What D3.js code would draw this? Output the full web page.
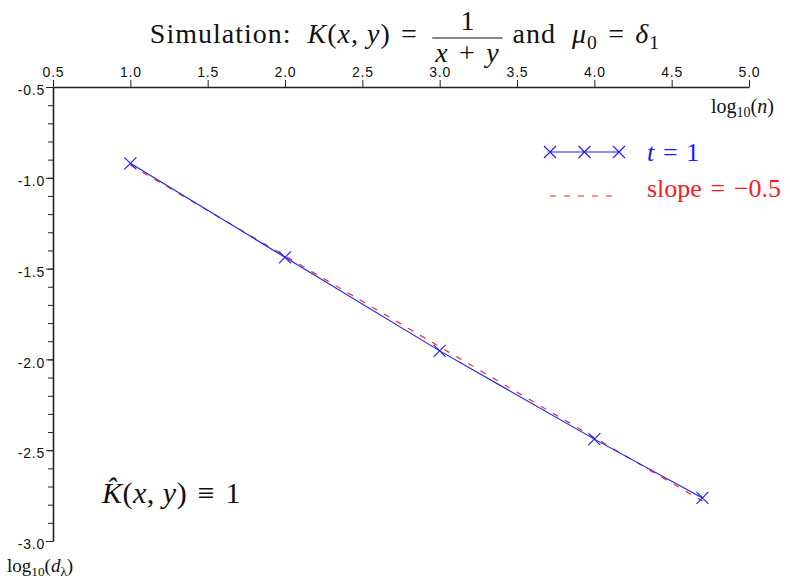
<!DOCTYPE html>
<html>
<head>
<meta charset="utf-8">
<script src="https://cdn.jsdelivr.net/npm/d3@7"></script>
<style>
  body { margin: 0; background: #fff; }
  .axis path, .axis line { stroke: #222; }
  .axis text { font-family: "Liberation Sans", Arial, sans-serif; font-size: 14px; fill: #111; letter-spacing: 0.8px; }
</style>
</head>
<body>
<div id="chart"></div>
<script>
var svgWidth = 790;
var svgHeight = 582;

var margin = { top: 87, right: 41, bottom: 41, left: 53 };
var width = svgWidth - margin.left - margin.right;
var height = svgHeight - margin.top - margin.bottom;

var serif = "'Liberation Serif', 'Times New Roman', serif";
var sp = "\u2004"; // slightly wider math space

// data
var logN = [1, 2, 3, 4, 4.699];
var logD = [-0.920, -1.438, -1.953, -2.439, -2.763];
// slope -0.5 reference line (end points)
var refX = [1, 4.699];
var refY = [-0.93, -2.78];

var xTicks = [0.5, 1.0, 1.5, 2.0, 2.5, 3.0, 3.5, 4.0, 4.5, 5.0];
var yTicks = [-0.5, -1.0, -1.5, -2.0, -2.5, -3.0];
var yMinorTicks = d3.range(-5, -31, -1).map(d => d / 10);

var svg = d3.select("#chart")
  .append("svg")
  .attr("width", svgWidth)
  .attr("height", svgHeight);

var chartGroup = svg.append("g")
  .attr("transform", `translate(${margin.left}, ${margin.top})`);

var xScale = d3.scaleLinear().domain([0.5, 5.0]).range([0, width]);
var yScale = d3.scaleLinear().domain([-0.5, -3.0]).range([0, height]);

// x axis sits on top
var topAxis = d3.axisTop(xScale)
  .tickValues(xTicks)
  .tickSize(7)
  .tickPadding(3)
  .tickSizeOuter(0)
  .tickFormat(d3.format(".1f"));

var xAxis = chartGroup.append("g")
  .classed("axis", true)
  .call(topAxis);
xAxis.select(".domain").attr("stroke-width", 1.6);

// minor y ticks first, then the labelled ones
chartGroup.append("g")
  .classed("axis", true)
  .call(d3.axisLeft(yScale).tickValues(yMinorTicks).tickSize(5).tickSizeOuter(0).tickFormat(""));

var yAxis = chartGroup.append("g")
  .classed("axis", true)
  .call(d3.axisLeft(yScale)
    .tickValues(yTicks)
    .tickSize(7)
    .tickPadding(1)
    .tickSizeOuter(0)
    .tickFormat(d3.format(".1f")));
yAxis.select(".domain").attr("stroke-width", 1.6);
yAxis.selectAll("text").attr("dy", "0.55em").text(d => d3.format(".1f")(d).replace("−", "-"));

// reference slope line
var line = d3.line().x(d => xScale(d[0])).y(d => yScale(d[1]));

chartGroup.append("path")
  .datum(refX.map((d, i) => [d, refY[i]]))
  .attr("d", line)
  .attr("fill", "none")
  .attr("stroke", "#ff1a1a")
  .attr("stroke-width", 1.1)
  .attr("stroke-dasharray", "6,8");

chartGroup.append("path")
  .datum(logN.map((d, i) => [d, logD[i]]))
  .attr("d", line)
  .attr("fill", "none")
  .attr("stroke", "#1a1aff")
  .attr("stroke-width", 1.1);

function cross(g, cx, cy, r, color) {
  g.append("path")
    .attr("d", `M${cx - r},${cy - r}L${cx + r},${cy + r}M${cx - r},${cy + r}L${cx + r},${cy - r}`)
    .attr("stroke", color)
    .attr("stroke-width", 1.1)
    .attr("fill", "none");
}

logN.forEach(function(d, i) {
  cross(chartGroup, xScale(d), yScale(logD[i]), 6, "#1a1aff");
});

// text helper: parts are [string, "r" | "i" | "s"]
function mathText(g, x, y, size, parts, color, spacing) {
  var t = g.append("text")
    .attr("x", x).attr("y", y)
    .style("font-family", serif)
    .style("font-size", size + "px")
    .style("letter-spacing", (spacing || 0) + "px")
    .style("white-space", "pre")
    .attr("fill", color);
  var shift = 0;
  parts.forEach(function(p) {
    var s = t.append("tspan").text(p[0]);
    if (p[1] === "i") s.style("font-style", "italic");
    if (p[1] === "s") {
      s.style("font-size", (size * 0.7) + "px").attr("dy", size * 0.22 - shift);
      shift = size * 0.22;
    } else if (shift) {
      s.attr("dy", -shift);
      shift = 0;
    }
  });
  return t;
}

// title
var titleG = svg.append("g");
var tSize = 28;
var tSp = 1;
var before = mathText(titleG, 0, 43, tSize, [
  ["Simulation:  ", "r"], ["K", "i"], ["(", "r"], ["x", "i"], [", ", "r"],
  ["y", "i"], [")", "r"], [sp + "=" + sp, "r"]], "#111", tSp);
var bw = before.node().getComputedTextLength();
var denom = mathText(titleG, 0, 62, tSize, [["x", "i"], [sp + "+" + sp, "r"], ["y", "i"]], "#111", tSp);
var dw = denom.node().getComputedTextLength();
var fracX = bw + 4;
denom.attr("x", fracX + 3);
titleG.append("text")
  .attr("x", fracX + 3 + dw / 2).attr("y", 30)
  .attr("text-anchor", "middle")
  .style("font-family", serif).style("font-size", tSize + "px")
  .attr("fill", "#111").text("1");
titleG.append("line")
  .attr("x1", fracX).attr("x2", fracX + dw + 6)
  .attr("y1", 38).attr("y2", 38)
  .attr("stroke", "#111").attr("stroke-width", 1.2);
var after = mathText(titleG, fracX + dw + 8, 43, tSize, [
  [" and  ", "r"], ["μ", "i"], ["0", "s"], [sp + "=" + sp, "r"], ["δ", "i"], ["1", "s"]], "#111", tSp);
var totalW = fracX + dw + 8 + after.node().getComputedTextLength();
titleG.attr("transform", `translate(${405 - totalW / 2}, 0)`);

// axis labels
mathText(svg, 711, 113, 20, [["log", "r"], ["10", "s"], ["(", "r"], ["n", "i"], [")", "r"]], "#111");
mathText(svg, 7, 572, 19, [["log", "r"], ["10", "s"], ["(", "r"], ["d", "i"], ["λ", "s"], [")", "r"]], "#111");

// annotation
mathText(svg, 102, 503, 30, [["K\u0302", "i"], ["(", "r"], ["x", "i"], [", ", "r"], ["y", "i"], [")" + sp + "≡" + sp + "1", "r"]], "#111", 0.5);

// legend
var legend = svg.append("g");
legend.append("line")
  .attr("x1", 550).attr("x2", 619).attr("y1", 152).attr("y2", 152)
  .attr("stroke", "#1a1aff").attr("stroke-width", 1.1);
[550, 584.5, 619].forEach(function(cx) { cross(legend, cx, 152, 6, "#1a1aff"); });
mathText(legend, 647, 161, 26, [["t", "i"], [sp + "=" + sp + "1", "r"]], "#1a1aff", 0);

legend.append("line")
  .attr("x1", 550).attr("x2", 615).attr("y1", 196).attr("y2", 196)
  .attr("stroke", "#ff1a1a").attr("stroke-width", 1.1)
  .attr("stroke-dasharray", "6,8");
mathText(legend, 647, 197, 26, [["slope" + sp + "=" + sp + "−0.5", "r"]], "#ff1a1a", 0);
</script>
</body>
</html>
